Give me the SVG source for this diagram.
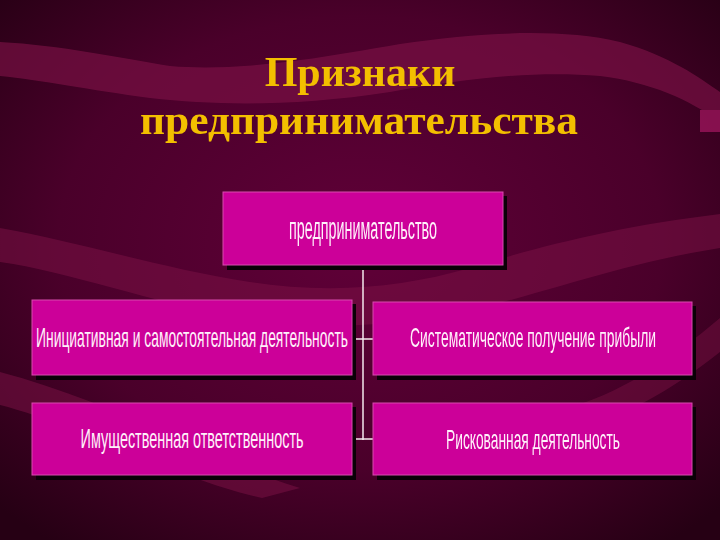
<svg xmlns="http://www.w3.org/2000/svg" width="720" height="540" viewBox="0 0 720 540">
<defs>
<radialGradient id="bg" cx="0.5" cy="0.45" r="0.7">
<stop offset="0" stop-color="#600038"/>
<stop offset="0.6" stop-color="#4a002a"/>
<stop offset="1" stop-color="#260014"/>
</radialGradient>
<style>
.box{fill:#cc0099;stroke:#d84aae;stroke-width:1}
.shadow{fill:#0a0006}
.lbl{font-family:"Liberation Sans",Arial,sans-serif;font-size:13px;fill:#fff0fa;text-anchor:middle}
.title{font-family:"Liberation Serif","Times New Roman",serif;font-weight:bold;font-size:42px;fill:#f3bf00;text-anchor:middle}
.conn{stroke:#f4e8ee;stroke-width:1.5;fill:none}
.band{fill:#7c1246}
</style>
</defs>
<rect width="720" height="540" fill="url(#bg)"/>
<g id="background" opacity="0.65">
<path class="band" d="M0,42 C60,45 120,58 170,66 C240,72 320,58 400,44 C480,32 560,28 620,42 C670,56 700,78 720,92 L720,122 C690,100 650,82 600,76 C530,70 460,80 390,92 C300,106 220,106 150,98 C90,90 40,80 0,76 Z"/>
<path class="band" d="M0,228 C80,242 160,268 250,282 C330,294 400,288 470,268 C540,246 620,226 720,214 L720,248 C630,262 560,288 480,308 C400,328 320,330 240,318 C150,302 70,272 0,262 Z" opacity="0.8"/>
<path class="band" d="M0,372 C60,388 120,412 180,440 C220,458 260,476 300,488 L262,498 C200,484 140,456 80,432 C50,420 20,410 0,405 Z" opacity="0.8"/>
<path class="band" d="M560,410 C620,395 670,360 720,318 L720,352 C670,392 620,418 580,428 Z" opacity="0.7"/>
<rect x="700" y="110" width="20" height="22" fill="#b01a68"/>
</g>
<g id="title">
<text class="title" x="360" y="86">Признаки</text>
<text class="title" x="359" y="134" textLength="438" lengthAdjust="spacingAndGlyphs">предпринимательства</text>
</g>
<g id="connectors">
<line class="conn" x1="363" y1="266" x2="363" y2="440"/>
<line class="conn" x1="352" y1="339" x2="373" y2="339"/>
<line class="conn" x1="352" y1="439" x2="373" y2="439"/>
</g>
<g id="node-root">
<rect class="shadow" x="227" y="196" width="280" height="74"/>
<rect class="box" x="223" y="192" width="280" height="73"/>
<g transform="translate(363,239) scale(1,2.4)"><text class="lbl" x="0" y="0" textLength="148" lengthAdjust="spacingAndGlyphs">предпринимательство</text></g>
</g>
<g id="node-initiative">
<rect class="shadow" x="36" y="304" width="320" height="76"/>
<rect class="box" x="32" y="300" width="320" height="75"/>
<g transform="translate(192,347) scale(1,2.15)"><text class="lbl" x="0" y="0" textLength="312" lengthAdjust="spacingAndGlyphs">Инициативная и самостоятельная деятельность</text></g>
</g>
<g id="node-profit">
<rect class="shadow" x="377" y="306" width="319" height="74"/>
<rect class="box" x="373" y="302" width="319" height="73"/>
<g transform="translate(533,347) scale(1,2.15)"><text class="lbl" x="0" y="0" textLength="246" lengthAdjust="spacingAndGlyphs">Систематическое получение прибыли</text></g>
</g>
<g id="node-property">
<rect class="shadow" x="36" y="407" width="320" height="73"/>
<rect class="box" x="32" y="403" width="320" height="72"/>
<g transform="translate(192,448) scale(1,2.15)"><text class="lbl" x="0" y="0" textLength="223" lengthAdjust="spacingAndGlyphs">Имущественная ответственность</text></g>
</g>
<g id="node-risk">
<rect class="shadow" x="377" y="407" width="319" height="73"/>
<rect class="box" x="373" y="403" width="319" height="72"/>
<g transform="translate(533,449) scale(1,2.15)"><text class="lbl" x="0" y="0" textLength="174" lengthAdjust="spacingAndGlyphs">Рискованная деятельность</text></g>
</g>
</svg>
